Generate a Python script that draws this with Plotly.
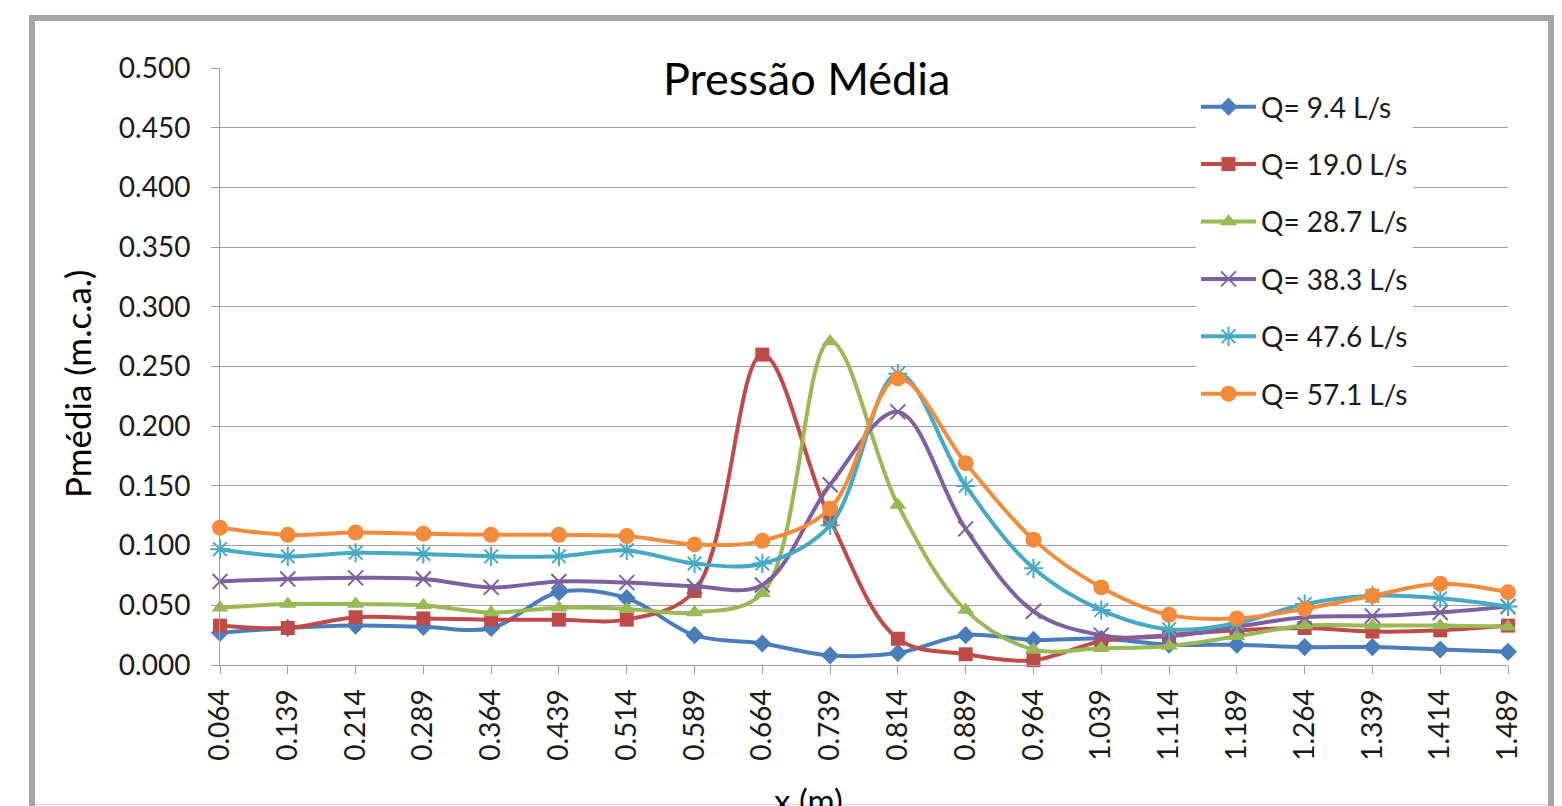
import plotly.graph_objects as go

# Measurement stations along the channel (m) and mean pressure head (m.c.a.)
x_labels = ["0.064", "0.139", "0.214", "0.289", "0.364", "0.439", "0.514",
            "0.589", "0.664", "0.739", "0.814", "0.889", "0.964", "1.039",
            "1.114", "1.189", "1.264", "1.339", "1.414", "1.489"]

q_9_4 = [0.027, 0.031, 0.033, 0.032, 0.031, 0.061, 0.056, 0.025, 0.018, 0.008,
         0.010, 0.025, 0.021, 0.022, 0.017, 0.017, 0.015, 0.015, 0.013, 0.011]
q_19_0 = [0.033, 0.031, 0.040, 0.039, 0.038, 0.038, 0.038, 0.062, 0.260, 0.122,
          0.022, 0.009, 0.004, 0.020, 0.025, 0.029, 0.031, 0.028, 0.029, 0.033]
q_28_7 = [0.048, 0.051, 0.051, 0.050, 0.044, 0.048, 0.047, 0.044, 0.060, 0.271,
          0.134, 0.046, 0.013, 0.014, 0.016, 0.024, 0.033, 0.033, 0.033, 0.032]
q_38_3 = [0.070, 0.072, 0.073, 0.072, 0.065, 0.070, 0.069, 0.066, 0.067, 0.151,
          0.212, 0.114, 0.045, 0.025, 0.024, 0.032, 0.040, 0.041, 0.044, 0.049]
q_47_6 = [0.097, 0.091, 0.094, 0.093, 0.091, 0.091, 0.096, 0.085, 0.085, 0.117,
          0.244, 0.150, 0.081, 0.046, 0.030, 0.035, 0.051, 0.058, 0.056, 0.049]
q_57_1 = [0.115, 0.109, 0.111, 0.110, 0.109, 0.109, 0.108, 0.101, 0.104, 0.131,
          0.240, 0.169, 0.105, 0.065, 0.042, 0.039, 0.047, 0.058, 0.068, 0.061]

series_names = ["Q= 9.4 L/s", "Q= 19.0 L/s", "Q= 28.7 L/s",
                "Q= 38.3 L/s", "Q= 47.6 L/s", "Q= 57.1 L/s"]
series_values = [q_9_4, q_19_0, q_28_7, q_38_3, q_47_6, q_57_1]

colors = ["#4A7EBB", "#BE4B48", "#98B954", "#7D60A0", "#46AAC5", "#F38B3C"]
symbols = ["diamond", "square", "triangle-up", "x-thin-open", "asterisk-open", "circle"]
sizes = [14, 14, 15, 15, 16, 16]

FONT = "Lato, 'Open Sans', sans-serif"
W, H = 1562, 806
L, R, T, B = 220, 1508, 68, 665  # plot area in pixels


def px_x(px):
    return (px - L) / (R - L)


def px_y(py):
    return (B - py) / (B - T)


fig = go.Figure()
for i, (name, vals) in enumerate(zip(series_names, series_values)):
    fig.add_trace(go.Scatter(
        x=x_labels, y=vals, name=name, mode="lines+markers",
        legendgroup=f"g{i}",
        line=dict(color=colors[i], width=4, shape="spline", smoothing=1.0),
        marker=dict(symbol=symbols[i], size=sizes[i], color=colors[i],
                    line=dict(color=colors[i], width=2 if i in (3, 4) else 0)),
        cliponaxis=False,
    ))

grid = "#9E9E9E"
fig.update_layout(
    width=W, height=H,
    margin=dict(l=L, r=W - R, t=T, b=H - B),
    paper_bgcolor="white", plot_bgcolor="white",
    font=dict(family=FONT, color="#1A1A1A", size=28),
    showlegend=True,
    legend=dict(
        x=px_x(1196), y=px_y(82), xanchor="left", yanchor="top",
        bgcolor="white", borderwidth=0, font=dict(size=28, family=FONT),
        itemwidth=55, tracegroupgap=18, traceorder="grouped",
    ),
    xaxis=dict(
        type="category", range=[0, len(x_labels) - 1],
        tickangle=-90, ticks="outside", ticklen=8, tickcolor=grid,
        showline=True, linecolor=grid, linewidth=1,
        showgrid=False, zeroline=False,
        tickfont=dict(size=28, family=FONT, color="#1A1A1A"),
        ticklabelstandoff=4,
    ),
    yaxis=dict(
        range=[0, 0.5], dtick=0.05, tickformat=".3f",
        ticks="outside", ticklen=8, tickcolor=grid,
        showline=True, linecolor=grid, linewidth=1,
        showgrid=True, gridcolor=grid, gridwidth=1, zeroline=False,
        tickfont=dict(size=28, family=FONT, color="#1A1A1A"),
        ticklabelstandoff=15,
    ),
    shapes=[
        # chart frame
        dict(type="rect", xref="paper", yref="paper",
             x0=px_x(32), x1=px_x(1551), y0=px_y(840), y1=px_y(18),
             line=dict(color="#A6A6A6", width=6), layer="below"),
        dict(type="line", xref="paper", yref="paper",
             x0=px_x(35), x1=px_x(1548), y0=px_y(804.5), y1=px_y(804.5),
             line=dict(color="#D4D4D4", width=1), layer="below"),
        # white legend backdrop over the gridlines
        dict(type="rect", xref="paper", yref="paper",
             x0=px_x(1168), x1=px_x(1440), y0=px_y(415), y1=px_y(84),
             fillcolor="white", line=dict(width=0), layer="between"),
    ],
    annotations=[
        dict(text="Pressão Média", xref="paper", yref="paper",
             x=px_x(806), y=px_y(78), xanchor="center", yanchor="middle",
             showarrow=False, bgcolor="white", borderpad=8,
             font=dict(size=45, family=FONT, color="#000000")),
        dict(text="Pmédia (m.c.a.)", xref="paper", yref="paper",
             x=px_x(77), y=px_y(384), xanchor="center", yanchor="middle",
             textangle=-90, showarrow=False,
             font=dict(size=35, family=FONT, color="#000000")),
        dict(text="x (m)", xref="paper", yref="paper",
             x=px_x(808), y=px_y(778), xanchor="center", yanchor="top",
             showarrow=False,
             font=dict(size=33, family=FONT, color="#000000")),
    ],
)

fig.write_html("out.html")
